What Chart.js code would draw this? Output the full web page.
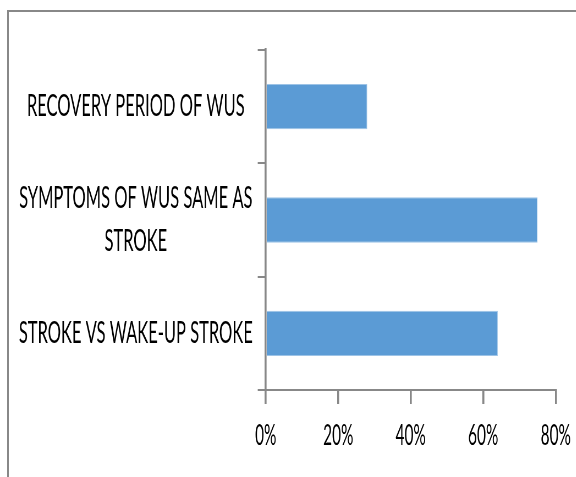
<!DOCTYPE html>
<html>
<head>
<meta charset="utf-8">
<script src="https://cdn.jsdelivr.net/npm/chart.js@4"></script>
<style>
  html, body { margin: 0; padding: 0; background: #fff; overflow: hidden; }
  #frame { position: absolute; left: 7px; top: 10px; width: 600px; height: 500px;
           border-left: 2px solid #888; border-top: 2px solid #888; }
  #wrap { position: absolute; left: 0; top: 0; height: 477px; transform-origin: 0 0; }
</style>
</head>
<body>
<div id="frame"></div>
<div id="wrap"><canvas id="chart"></canvas></div>
<script>
const categories = [
  'RECOVERY PERIOD OF WUS',
  ['SYMPTOMS OF WUS SAME AS', 'STROKE'],
  'STROKE VS WAKE-UP STROKE',
];
const values = [28, 75, 64];
const xTicks = [0, 20, 40, 60, 80];

// the source image is horizontally squeezed, so draw wide and squeeze it back
const S = 0.55;
const wrap = document.getElementById('wrap');
wrap.style.width = (576 / S) + 'px';
wrap.style.transform = 'scaleX(' + S + ')';

const axisGrey = '#888888';

new Chart(document.getElementById('chart'), {
  type: 'bar',
  data: {
    labels: categories,
    datasets: [{
      data: values,
      backgroundColor: '#5b9bd5',
      borderColor: '#9dc3e6',
      borderWidth: 1,
      barPercentage: 0.4,
      categoryPercentage: 1,
    }],
  },
  options: {
    indexAxis: 'y',
    responsive: true,
    maintainAspectRatio: false,
    animation: false,
    layout: { padding: { top: 50, right: 20.3 / S, bottom: 0, left: 0 } },
    plugins: { legend: { display: false }, tooltip: { enabled: false } },
    scales: {
      x: {
        min: xTicks[0],
        max: xTicks[xTicks.length - 1],
        afterBuildTicks: (scale) => { scale.ticks = xTicks.map((v) => ({ value: v })); },
        afterFit: (scale) => {
          scale.height = 87;
          scale.paddingLeft = 0;
          scale.paddingRight = 0;
        },
        border: { color: axisGrey, width: 2 },
        grid: { drawOnChartArea: false, color: axisGrey, lineWidth: 2 / S, tickLength: 14 },
        ticks: {
          color: '#000',
          padding: 15,
          font: { family: 'Lato', size: 28 },
          callback: (v) => v + '%',
        },
      },
      y: {
        afterFit: (scale) => {
          scale.width = 265.7 / S;
          scale.paddingTop = 0;
          scale.paddingBottom = 0;
        },
        border: { color: axisGrey, width: 2 / S },
        grid: { drawOnChartArea: false, color: axisGrey, lineWidth: 2, tickLength: 8 / S },
        ticks: {
          color: '#000',
          padding: 5 / S,
          crossAlign: 'center',
          font: { family: 'Lato', size: 30, lineHeight: 1.45 },
        },
      },
    },
  },
});
</script>
</body>
</html>
